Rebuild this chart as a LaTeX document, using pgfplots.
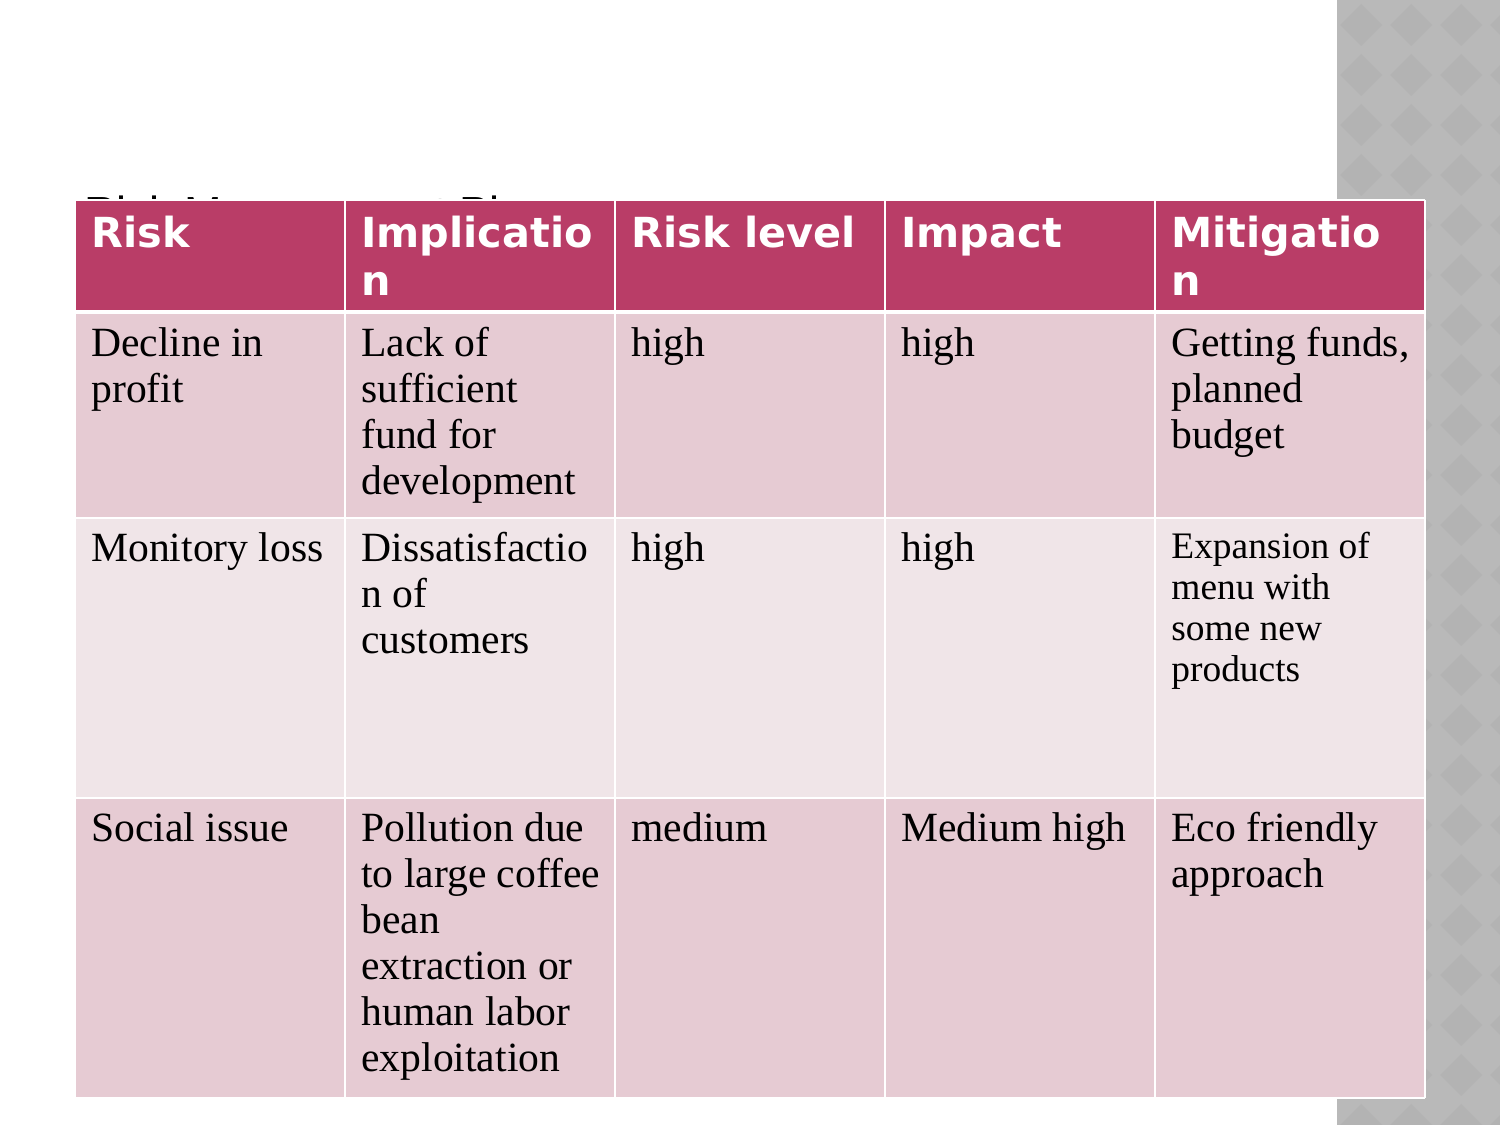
\documentclass[border=0pt]{standalone}
\usepackage{pgfplots}
\pgfplotsset{compat=1.18}
\usepackage{fontspec}
\setmainfont{Liberation Serif}
\newfontfamily\headfont{DejaVu Sans}
\newfontfamily\titlefont{Liberation Sans}

\definecolor{hdr}{RGB}{185,61,103}
\definecolor{rowdark}{RGB}{230,203,211}
\definecolor{rowlight}{RGB}{240,229,232}
\definecolor{panel}{RGB}{185,185,185}
\definecolor{panelb}{RGB}{179,179,179}

\begin{document}
\begin{tikzpicture}
% slide background and the patterned strip on the right (1 px = 0.5pt)
\begin{scope}[shift={(0pt,562.5pt)}, x=0.5pt, y=-0.5pt]
  \fill[white] (0,0) rectangle (1500,1125);
  \fill[panel] (1337,0) rectangle (1500,1125);
  \begin{scope}
    \clip (1337,0) rectangle (1500,1125);
    \foreach \i in {0,...,4} {
      \foreach \j in {0,...,23} {
        \fill[panelb] ({1340+50*\i},{25+50*\j}) -- ++(21,-21) -- ++(21,21) -- ++(-21,21) -- cycle;
      }
    }
  \end{scope}
\end{scope}

\begin{axis}[
  at={(0pt,0pt)}, anchor=south west,
  width=750pt, height=562.5pt,
  scale only axis,
  xmin=0, xmax=1500,
  ymin=0, ymax=1125,
  y dir=reverse,
  hide axis,
  clip=false,
]
% title, mostly hidden under the table header
\node[anchor=base west, inner sep=0, font=\titlefont\fontsize{22.5}{26}\selectfont]
  at (axis cs:84,228) {Risk Management Plan};

% cell fills
\addplot[fill=hdr, draw=none] coordinates {(76,200) (1425,200) (1425,312) (76,312)} -- cycle;
\addplot[fill=rowdark, draw=none] coordinates {(76,312) (1425,312) (1425,518) (76,518)} -- cycle;
\addplot[fill=rowlight, draw=none] coordinates {(76,518) (1425,518) (1425,798) (76,798)} -- cycle;
\addplot[fill=rowdark, draw=none] coordinates {(76,798) (1425,798) (1425,1098) (76,1098)} -- cycle;

% white grid lines
\addplot[white, line width=2pt] coordinates {(76,312) (1425,312)};
\addplot[white, line width=1.2pt] coordinates {(76,518) (1425,518)};
\addplot[white, line width=1.2pt] coordinates {(76,798) (1425,798)};
\addplot[white, line width=1.2pt] coordinates {(76,1098) (1425,1098)};
\addplot[white, line width=1.2pt] coordinates {(76,200) (1425,200)};
\addplot[white, line width=1.2pt] coordinates {(345,200) (345,1098)};
\addplot[white, line width=1.2pt] coordinates {(615,200) (615,1098)};
\addplot[white, line width=1.2pt] coordinates {(885,200) (885,1098)};
\addplot[white, line width=1.2pt] coordinates {(1155,200) (1155,1098)};
\addplot[white, line width=1.2pt] coordinates {(1425,200) (1425,1098)};

% header text
\begin{scope}[every node/.style={anchor=base west, inner sep=0, text=white,
    font=\headfont\bfseries\fontsize{20.7}{24}\selectfont}]
\node at (axis cs:91,247) {Risk};
\node at (axis cs:361,247) {Implicatio};
\node at (axis cs:361,295) {n};
\node at (axis cs:631,247) {Risk level};
\node at (axis cs:901,247) {Impact};
\node at (axis cs:1171,247) {Mitigatio};
\node at (axis cs:1171,295) {n};
\end{scope}

% body text
\begin{scope}[every node/.style={anchor=base west, inner sep=0, text=black,
    font=\fontsize{20.8}{23}\selectfont}]
\node at (axis cs:91,356) {Decline in};
\node at (axis cs:91,402) {profit};
\node at (axis cs:361,356) {Lack of};
\node at (axis cs:361,402) {sufficient};
\node at (axis cs:361,448) {fund for};
\node at (axis cs:361,494) {development};
\node at (axis cs:631,356) {high};
\node at (axis cs:901,356) {high};
\node at (axis cs:1171,356) {Getting funds,};
\node at (axis cs:1171,402) {planned};
\node at (axis cs:1171,448) {budget};

\node at (axis cs:91,561) {Monitory loss};
\node at (axis cs:361,561) {Dissatisfactio};
\node at (axis cs:361,607) {n of};
\node at (axis cs:361,653) {customers};
\node at (axis cs:631,561) {high};
\node at (axis cs:901,561) {high};

\node at (axis cs:91,841) {Social issue};
\node at (axis cs:361,841) {Pollution due};
\node at (axis cs:361,887) {to large coffee};
\node at (axis cs:361,933) {bean};
\node at (axis cs:361,979) {extraction or};
\node at (axis cs:361,1025) {human labor};
\node at (axis cs:361,1071) {exploitation};
\node at (axis cs:631,841) {medium};
\node at (axis cs:901,841) {Medium high};
\node at (axis cs:1171,841) {Eco friendly};
\node at (axis cs:1171,887) {approach};
\end{scope}

\begin{scope}[every node/.style={anchor=base west, inner sep=0, text=black,
    font=\fontsize{18.7}{20.5}\selectfont}]
\node at (axis cs:1171,558) {Expansion of};
\node at (axis cs:1171,599) {menu with};
\node at (axis cs:1171,640) {some new};
\node at (axis cs:1171,681) {products};
\end{scope}
\end{axis}
\end{tikzpicture}
\end{document}
